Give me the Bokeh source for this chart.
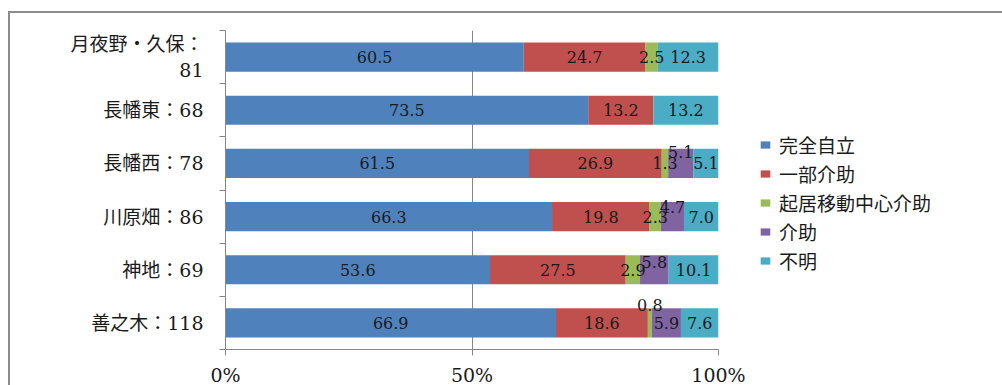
import numpy as np
from bokeh.plotting import figure
from bokeh.models import ColumnDataSource, FixedTicker, Legend, LegendItem, Range1d
from bokeh.core.properties import value
from bokeh.embed import file_html
from bokeh.resources import INLINE

# ---- data ----
regions = ["月夜野・久保：\n81", "長幡東：68", "長幡西：78", "川原畑：86", "神地：69", "善之木：118"]
series = ["完全自立", "一部介助", "起居移動中心介助", "介助", "不明"]
kanzen_jiritsu = [60.5, 73.5, 61.5, 66.3, 53.6, 66.9]
ichibu_kaijo = [24.7, 13.2, 26.9, 19.8, 27.5, 18.6]
kikyo_kaijo = [2.5, 0.0, 1.3, 2.3, 2.9, 0.8]
kaijo = [0.0, 0.0, 5.1, 4.7, 5.8, 5.9]
fumei = [12.3, 13.2, 5.1, 7.0, 10.1, 7.6]
x_ticks = [0, 50, 100]
x_tick_labels = ["0%", "50%", "100%"]

# ---- styles ----
colors = ["#4F81BD", "#C0504D", "#9BBB59", "#8064A2", "#4BACC6"]
GRAY = "#868686"
LABEL_FONT = "'DejaVu Serif', 'Noto Sans CJK JP'"
# vertical nudges (px) of crowded data labels: (row, series) -> offset
label_nudge = {(2, 3): -11, (3, 3): -10, (4, 3): -8, (5, 2): -18}

values = np.array([kanzen_jiritsu, ichibu_kaijo, kikyo_kaijo, kaijo, fumei], dtype=float)  # series x rows
totals = values.sum(axis=0)
norm = values / totals * 100.0
n = len(regions)
ycent = [n - 0.5 - i for i in range(n)]

src_data = {"y": ycent}
keys = [f"s{k}" for k in range(len(series))]
for k, key in enumerate(keys):
    src_data[key] = list(norm[k])
src = ColumnDataSource(src_data)

p = figure(width=990, height=372, frame_width=493, frame_height=319,
           output_backend="svg", toolbar_location=None,
           x_range=Range1d(0, 100), y_range=Range1d(0, n),
           min_border_left=215, min_border_right=282, min_border_top=17, min_border_bottom=36)
p.styles = {"margin-top": "11px", "margin-left": "8px",
            "border-top": "2px solid #8c8c8c", "border-left": "2px solid #8c8c8c"}
p.outline_line_color = None
p.background_fill_color = "white"
p.border_fill_color = "white"

renderers = p.hbar_stack(keys, y="y", height=0.55, color=colors, line_color=None, source=src)

# data labels
lx, ly, lt, lo = [], [], [], []
cum = np.zeros(n)
for k in range(len(series)):
    for i in range(n):
        v = values[k, i]
        if v > 0:
            lx.append(cum[i] + norm[k, i] / 2)
            ly.append(ycent[i])
            lt.append(f"{v:.1f}")
            lo.append(label_nudge.get((i, k), 0))
    cum = cum + norm[k]
lsrc = ColumnDataSource(dict(x=lx, y=ly, t=lt, o=lo))
p.text(x="x", y="y", text="t", y_offset="o", source=lsrc, text_align="center", text_baseline="middle",
       text_font=value("DejaVu Serif"), text_font_size="16px", text_color="#1a1a1a")

# axes
p.xaxis.ticker = FixedTicker(ticks=x_ticks)
p.xaxis.major_label_overrides = dict(zip(x_ticks, x_tick_labels))
p.xaxis.axis_line_color = GRAY
p.xaxis.major_tick_line_color = GRAY
p.xaxis.major_tick_out = 6
p.xaxis.major_tick_in = 0
p.xaxis.minor_tick_line_color = None
p.xaxis.major_label_text_font = "DejaVu Serif"
p.xaxis.major_label_text_font_size = "19px"
p.xaxis.major_label_text_color = "#1a1a1a"
p.xaxis.major_label_standoff = 8

p.yaxis.ticker = FixedTicker(ticks=ycent, minor_ticks=list(range(n + 1)))
p.yaxis.major_label_overrides = {y: lab for y, lab in zip(ycent, regions)}
p.yaxis.axis_line_color = GRAY
p.yaxis.major_tick_line_color = None
p.yaxis.minor_tick_line_color = GRAY
p.yaxis.minor_tick_out = 6
p.yaxis.minor_tick_in = 0
p.yaxis.major_label_text_font = LABEL_FONT
p.yaxis.major_label_text_font_size = "19px"
p.yaxis.major_label_text_color = "#1a1a1a"
p.yaxis.major_label_standoff = 16

p.xgrid.grid_line_color = GRAY
p.ygrid.visible = False

items = [LegendItem(label=s, renderers=[r]) for s, r in zip(series, renderers)]
legend = Legend(items=items, location=(41, 75), orientation="vertical",
                border_line_color=None, background_fill_alpha=0, padding=0, margin=0,
                spacing=2, label_height=20, glyph_width=12, glyph_height=9, label_standoff=8,
                label_text_font="Noto Sans CJK JP", label_text_font_size="19px",
                label_text_color="#1a1a1a")
p.add_layout(legend, "right")

open("out.html", "w").write(file_html(p, INLINE))
